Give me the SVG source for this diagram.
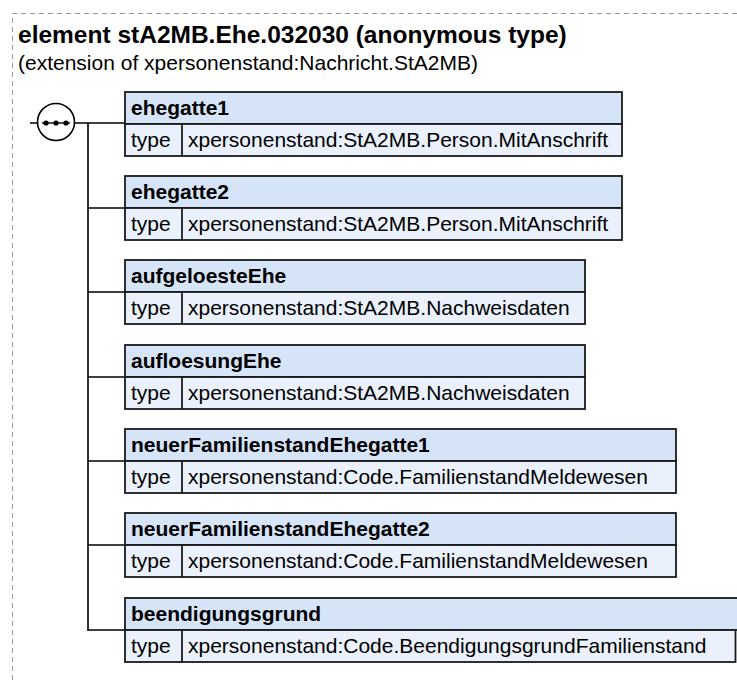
<svg xmlns="http://www.w3.org/2000/svg" width="737" height="680" viewBox="0 0 737 680">
<style>
.frame{fill:none;stroke:#9a9a9a;stroke-width:1;stroke-dasharray:5 4}
.title{font-family:"Liberation Sans",Arial,sans-serif;font-weight:bold;font-size:24.5px;fill:#000}
.sub{font-family:"Liberation Sans",Arial,sans-serif;font-size:21px;fill:#000}
.hd{fill:#d6e4f8;stroke:#1a1a1a;stroke-width:1.8}
.ty{fill:#eaf1fc;stroke:#1a1a1a;stroke-width:1.8}
.sep{stroke:#1a1a1a;stroke-width:1.8}
.name{font-family:"Liberation Sans",Arial,sans-serif;font-weight:bold;font-size:21px;fill:#000}
.txt{font-family:"Liberation Sans",Arial,sans-serif;font-size:21px;fill:#000}
.con{fill:none;stroke:#000;stroke-width:1.6}
</style>
<rect width="737" height="680" fill="#fff"/>
<path class="frame" d="M12.5 680 V13.5 H737"/>
<text class="title" x="18" y="43">element stA2MB.Ehe.032030 (anonymous type)</text>
<text class="sub" x="18" y="70">(extension of xpersonenstand:Nachricht.StA2MB)</text>
<g id="connectors">
<path class="con" d="M30 123 H37.5 M74.5 123 H125 M88 123 V631"/>
<path class="con" d="M88 208 H125 M88 292 H125 M88 377 H125 M88 461 H125 M88 545 H125 M88 630 H125"/>
</g>
<g id="sequence">
<circle cx="56" cy="122" r="18.5" fill="#fff" stroke="#000" stroke-width="1.6"/>
<path d="M42 123 H70" stroke="#000" stroke-width="1.4"/>
<circle cx="46" cy="123" r="2.6"/><circle cx="56" cy="123" r="2.6"/><circle cx="66" cy="123" r="2.6"/>
</g>
<g id="ehegatte1">
<rect class="hd" x="125" y="92" width="497" height="32"/>
<rect class="ty" x="125" y="124" width="497" height="32"/>
<line class="sep" x1="182" y1="124" x2="182" y2="156"/>
<text class="name" x="131" y="115">ehegatte1</text>
<text class="txt" x="131" y="147">type</text>
<text class="txt" x="188" y="147">xpersonenstand:StA2MB.Person.MitAnschrift</text>
</g>
<g id="ehegatte2">
<rect class="hd" x="125" y="176" width="497" height="32"/>
<rect class="ty" x="125" y="208" width="497" height="32"/>
<line class="sep" x1="182" y1="208" x2="182" y2="240"/>
<text class="name" x="131" y="199">ehegatte2</text>
<text class="txt" x="131" y="231">type</text>
<text class="txt" x="188" y="231">xpersonenstand:StA2MB.Person.MitAnschrift</text>
</g>
<g id="aufgeloesteEhe">
<rect class="hd" x="125" y="260" width="460" height="32"/>
<rect class="ty" x="125" y="292" width="460" height="32"/>
<line class="sep" x1="182" y1="292" x2="182" y2="324"/>
<text class="name" x="131" y="283">aufgeloesteEhe</text>
<text class="txt" x="131" y="315">type</text>
<text class="txt" x="188" y="315">xpersonenstand:StA2MB.Nachweisdaten</text>
</g>
<g id="aufloesungEhe">
<rect class="hd" x="125" y="345" width="460" height="32"/>
<rect class="ty" x="125" y="377" width="460" height="32"/>
<line class="sep" x1="182" y1="377" x2="182" y2="409"/>
<text class="name" x="131" y="368">aufloesungEhe</text>
<text class="txt" x="131" y="400">type</text>
<text class="txt" x="188" y="400">xpersonenstand:StA2MB.Nachweisdaten</text>
</g>
<g id="neuerFamilienstandEhegatte1">
<rect class="hd" x="125" y="429" width="551" height="32"/>
<rect class="ty" x="125" y="461" width="551" height="32"/>
<line class="sep" x1="182" y1="461" x2="182" y2="493"/>
<text class="name" x="131" y="452">neuerFamilienstandEhegatte1</text>
<text class="txt" x="131" y="484">type</text>
<text class="txt" x="188" y="484">xpersonenstand:Code.FamilienstandMeldewesen</text>
</g>
<g id="neuerFamilienstandEhegatte2">
<rect class="hd" x="125" y="513" width="551" height="32"/>
<rect class="ty" x="125" y="545" width="551" height="32"/>
<line class="sep" x1="182" y1="545" x2="182" y2="577"/>
<text class="name" x="131" y="536">neuerFamilienstandEhegatte2</text>
<text class="txt" x="131" y="568">type</text>
<text class="txt" x="188" y="568">xpersonenstand:Code.FamilienstandMeldewesen</text>
</g>
<g id="beendigungsgrund">
<rect class="hd" x="125" y="598" width="625" height="32"/>
<rect class="ty" x="125" y="630" width="610.5" height="32"/>
<line class="sep" x1="182" y1="630" x2="182" y2="662"/>
<text class="name" x="131" y="621">beendigungsgrund</text>
<text class="txt" x="131" y="653">type</text>
<text class="txt" x="188" y="653">xpersonenstand:Code.BeendigungsgrundFamilienstand</text>
</g>
</svg>
